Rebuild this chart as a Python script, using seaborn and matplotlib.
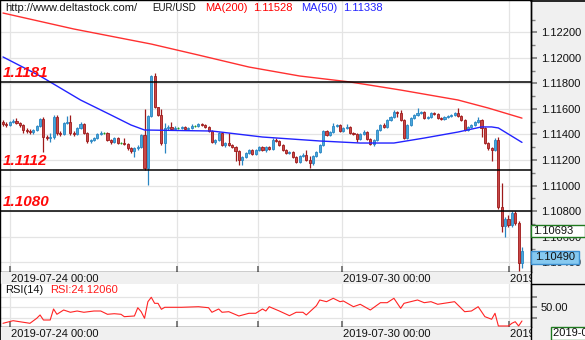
import matplotlib
matplotlib.use("Agg")
import matplotlib.pyplot as plt
import seaborn as sns
import pandas as pd
from matplotlib.patches import Rectangle
from matplotlib.lines import Line2D
from matplotlib.ticker import FixedLocator, FuncFormatter

# ---------------- data (EUR/USD hourly candles) ----------------
first_open = 1.11498
closes = [1.11482, 1.11474, 1.11498, 1.11506, 1.11490, 1.11474, 1.11435, 1.11427, 1.11419, 1.11435,
          1.11466, 1.11521, 1.11380, 1.11372, 1.11380, 1.11537, 1.11412, 1.11404, 1.11490, 1.11498,
          1.11412, 1.11404, 1.11451, 1.11482, 1.11412, 1.11349, 1.11357, 1.11372, 1.11404, 1.11412,
          1.11412, 1.11357, 1.11341, 1.11372, 1.11333, 1.11333, 1.11326, 1.11294, 1.11271, 1.11294,
          1.11302, 1.11396, 1.11138, 1.11545, 1.11858, 1.11615, 1.11553, 1.11333, 1.11451, 1.11459,
          1.11443, 1.11451, 1.11451, 1.11459, 1.11443, 1.11451, 1.11466, 1.11466, 1.11482, 1.11474,
          1.11459, 1.11427, 1.11341, 1.11357, 1.11412, 1.11318, 1.11333, 1.11318, 1.11302, 1.11271,
          1.11200, 1.11224, 1.11255, 1.11278, 1.11247, 1.11278, 1.11302, 1.11278, 1.11302, 1.11286,
          1.11357, 1.11349, 1.11318, 1.11278, 1.11255, 1.11263, 1.11224, 1.11185, 1.11231, 1.11239,
          1.11200, 1.11177, 1.11231, 1.11263, 1.11318, 1.11427, 1.11396, 1.11419, 1.11466, 1.11474,
          1.11427, 1.11451, 1.11459, 1.11412, 1.11404, 1.11365, 1.11404, 1.11419, 1.11365, 1.11326,
          1.11357, 1.11435, 1.11474, 1.11459, 1.11513, 1.11537, 1.11576, 1.11568, 1.11513, 1.11372,
          1.11474, 1.11529, 1.11553, 1.11568, 1.11576, 1.11529, 1.11537, 1.11568, 1.11560, 1.11529,
          1.11521, 1.11537, 1.11545, 1.11553, 1.11568, 1.11545, 1.11513, 1.11435, 1.11459, 1.11474,
          1.11498, 1.11513, 1.11451, 1.11333, 1.11294, 1.11278, 1.11357, 1.10832, 1.10683, 1.10738,
          1.10691, 1.10785, 1.10707, 1.10394, 1.10490]
highs = [1.11513, 1.11498, 1.11506, 1.11521, 1.11529, 1.11498, 1.11482, 1.11451, 1.11443, 1.11443,
         1.11474, 1.11529, 1.11537, 1.11396, 1.11412, 1.11553, 1.11553, 1.11427, 1.11498, 1.11545,
         1.11553, 1.11427, 1.11459, 1.11498, 1.11490, 1.11419, 1.11365, 1.11380, 1.11412, 1.11427,
         1.11419, 1.11419, 1.11365, 1.11380, 1.11380, 1.11341, 1.11372, 1.11333, 1.11302, 1.11302,
         1.11318, 1.11404, 1.11600, 1.11553, 1.11866, 1.11881, 1.11615, 1.11600, 1.11490, 1.11474,
         1.11498, 1.11466, 1.11459, 1.11466, 1.11466, 1.11459, 1.11482, 1.11474, 1.11490, 1.11490,
         1.11482, 1.11466, 1.11435, 1.11365, 1.11419, 1.11419, 1.11341, 1.11412, 1.11326, 1.11310,
         1.11278, 1.11231, 1.11263, 1.11286, 1.11286, 1.11286, 1.11310, 1.11310, 1.11310, 1.11310,
         1.11372, 1.11372, 1.11357, 1.11326, 1.11286, 1.11271, 1.11271, 1.11231, 1.11239, 1.11255,
         1.11278, 1.11231, 1.11239, 1.11271, 1.11326, 1.11435, 1.11435, 1.11427, 1.11490, 1.11482,
         1.11482, 1.11459, 1.11482, 1.11466, 1.11419, 1.11412, 1.11412, 1.11435, 1.11427, 1.11372,
         1.11365, 1.11443, 1.11482, 1.11490, 1.11521, 1.11545, 1.11592, 1.11584, 1.11592, 1.11521,
         1.11482, 1.11537, 1.11560, 1.11607, 1.11584, 1.11584, 1.11545, 1.11576, 1.11576, 1.11568,
         1.11537, 1.11545, 1.11553, 1.11560, 1.11576, 1.11607, 1.11553, 1.11521, 1.11466, 1.11482,
         1.11506, 1.11537, 1.11521, 1.11459, 1.11341, 1.11302, 1.11372, 1.11380, 1.11020, 1.10754,
         1.10770, 1.10800, 1.10800, 1.10723, 1.10520]
lows = [1.11466, 1.11459, 1.11466, 1.11490, 1.11482, 1.11459, 1.11412, 1.11412, 1.11404, 1.11404,
        1.11427, 1.11459, 1.11263, 1.11357, 1.11341, 1.11365, 1.11396, 1.11388, 1.11396, 1.11482,
        1.11396, 1.11388, 1.11396, 1.11443, 1.11404, 1.11333, 1.11333, 1.11349, 1.11365, 1.11396,
        1.11404, 1.11349, 1.11326, 1.11333, 1.11326, 1.11326, 1.11318, 1.11278, 1.11255, 1.11224,
        1.11278, 1.11294, 1.11122, 1.11004, 1.11537, 1.11607, 1.11545, 1.11318, 1.11255, 1.11435,
        1.11435, 1.11435, 1.11443, 1.11443, 1.11435, 1.11435, 1.11443, 1.11459, 1.11459, 1.11466,
        1.11451, 1.11419, 1.11333, 1.11326, 1.11349, 1.11310, 1.11302, 1.11310, 1.11294, 1.11192,
        1.11161, 1.11161, 1.11216, 1.11247, 1.11239, 1.11239, 1.11271, 1.11271, 1.11263, 1.11278,
        1.11278, 1.11341, 1.11310, 1.11271, 1.11247, 1.11247, 1.11216, 1.11177, 1.11177, 1.11224,
        1.11192, 1.11138, 1.11161, 1.11224, 1.11255, 1.11310, 1.11388, 1.11388, 1.11412, 1.11459,
        1.11419, 1.11419, 1.11443, 1.11404, 1.11396, 1.11341, 1.11357, 1.11396, 1.11357, 1.11318,
        1.11310, 1.11349, 1.11427, 1.11451, 1.11451, 1.11506, 1.11529, 1.11537, 1.11506, 1.11365,
        1.11365, 1.11466, 1.11521, 1.11545, 1.11560, 1.11521, 1.11521, 1.11529, 1.11553, 1.11521,
        1.11513, 1.11513, 1.11529, 1.11537, 1.11545, 1.11537, 1.11506, 1.11427, 1.11427, 1.11451,
        1.11466, 1.11490, 1.11380, 1.11326, 1.11278, 1.11192, 1.11271, 1.10816, 1.10636, 1.10597,
        1.10675, 1.10675, 1.10691, 1.10330, 1.10355]

ma200_idx = [0, 21, 44, 58, 73, 88, 103, 118, 135, 144, 154]
ma200_val = [1.12351, 1.12226, 1.12108, 1.12022, 1.11928, 1.11858, 1.11811, 1.11748, 1.11670, 1.11607, 1.11528]
ma50_idx = [0, 11, 23, 32, 38, 42, 62, 77, 94, 106, 116, 125, 135, 142, 145, 147, 154]
ma50_val = [1.12007, 1.11858, 1.11670, 1.11553, 1.11474, 1.11435, 1.11427, 1.11380, 1.11349, 1.11333,
            1.11333, 1.11372, 1.11419, 1.11459, 1.11459, 1.11451, 1.11338]

rsi_idx = [0, 3, 8, 10, 11, 12, 14, 15, 16, 18, 20, 22, 24, 27, 29, 31, 33, 35, 36, 39,
           40, 41, 42, 43, 44, 45, 46, 47, 48, 53, 58, 61, 62, 64, 65, 67, 70, 73, 75, 77,
           78, 79, 82, 85, 87, 89, 90, 93, 94, 96, 98, 100, 101, 104, 106, 109, 112, 114, 116, 118,
           119, 123, 125, 127, 129, 134, 137, 139, 141, 143, 145, 146, 147, 150, 151, 152, 153, 154]
rsi_val = [19.8, 24.7, 19.8, 29.2, 35.5, 26.0, 26.0, 46.8, 36.8, 44.9, 40.6, 43.0, 40.6, 43.0, 43.0, 36.8, 37.9, 36.8, 32.3, 33.6,
           49.2, 41.7, 29.2, 60.6, 68.9, 57.5, 57.5, 46.2, 50.0, 50.0, 51.1, 49.2, 40.6, 46.8, 40.6, 41.7, 33.6, 38.7, 38.7, 46.8,
           43.0, 51.1, 43.0, 34.2, 40.6, 40.6, 35.5, 53.0, 63.8, 60.6, 67.0, 60.6, 61.9, 51.1, 55.7, 44.9, 58.7, 58.7, 67.0, 48.1,
           57.5, 63.8, 58.7, 60.6, 55.7, 60.6, 41.7, 43.0, 51.1, 32.3, 27.4, 38.7, 14.7, 14.7, 19.8, 22.8, 14.7, 24.12]

level_prices = [1.1181, 1.1112, 1.1080]
level_labels = ["1.1181", "1.1112", "1.1080"]
day_idx = [2.1, 51.6, 75.7, 100.6, 150.1]
day_labels = ["2019-07-24 00:00", "", "", "2019-07-30 00:00", "2019-08-01 00:00"]
price_major = [1.104, 1.106, 1.108, 1.110, 1.112, 1.114, 1.116, 1.118, 1.120, 1.122]
price_minor = [1.105, 1.107, 1.109, 1.111, 1.113, 1.115, 1.117, 1.119, 1.121, 1.123]
tag_close = 1.10693
last_price = 1.10490

# ---------------- style ----------------
sns.set_theme(style="white")
plt.rcParams["font.family"] = ["Liberation Sans", "DejaVu Sans"]

W, H = 585, 340
fig = plt.figure(figsize=(W / 100, H / 100), dpi=100, facecolor="#f0f0f0")


def fr(x0, y0, x1, y1):
    return [x0 / W, 1 - y1 / H, (x1 - x0) / W, (y1 - y0) / H]


def P(x, y):
    return (x / W, 1 - y / H)


XLIM = (-0.89, 156.68)
GRID = "#e4e4e4"
TXT = 8

ax = fig.add_axes(fr(0, 0, 531, 272))
ax_s1 = fig.add_axes(fr(0, 272, 531, 284))
ax_r = fig.add_axes(fr(0, 284, 531, 327))
ax_s2 = fig.add_axes(fr(0, 327, 531, 340))

# ---------------- candles ----------------
n = len(closes)
idx = list(range(n))
opens = [first_open] + closes[:-1]
df = pd.DataFrame({"i": idx, "o": opens, "h": highs, "l": lows, "c": closes})

bull_fill, bull_edge = "#49a6dc", "#2a86c2"
bear_fill, bear_edge = "#c84848", "#9e1a1a"
doji_col = "#1e9a1e"

ax.set_facecolor("white")
for _, r in df.iterrows():
    if abs(r.c - r.o) < 1e-7:
        fc, ec = doji_col, doji_col
    elif r.c > r.o:
        fc, ec = bull_fill, bull_edge
    else:
        fc, ec = bear_fill, bear_edge
    ax.vlines(r.i, r.l, r.h, color=ec, lw=0.9, zorder=3)
    ax.bar(r.i, r.c - r.o, bottom=r.o, width=0.62, color=fc, edgecolor=ec, linewidth=0.6, zorder=4)

ma200 = pd.DataFrame({"i": ma200_idx, "v": ma200_val})
ma50 = pd.DataFrame({"i": ma50_idx, "v": ma50_val})
sns.lineplot(data=ma200, x="i", y="v", ax=ax, color="#ff3030", lw=1.0, zorder=5)
sns.lineplot(data=ma50, x="i", y="v", ax=ax, color="#2323ff", lw=1.0, zorder=5)

for p, lab in zip(level_prices, level_labels):
    ax.axhline(p, color="black", lw=1.1, zorder=6)
    ax.annotate(lab, xy=(0, p), xycoords=("axes fraction", "data"), xytext=(3, 9),
                textcoords="offset pixels", ha="left", va="center", color="#ff0a0a",
                fontsize=11, fontweight="bold", fontstyle="italic", zorder=7)

ax.set_xlim(*XLIM)
ax.set_ylim(1.10323, 1.12453)
ax.set_xlabel("")
ax.set_ylabel("")
ax.yaxis.tick_right()
ax.yaxis.set_major_locator(FixedLocator(price_major))
ax.yaxis.set_minor_locator(FixedLocator(price_minor))
ax.yaxis.set_major_formatter(FuncFormatter(lambda v, p: f"{v:.5f}"))
ax.tick_params(axis="y", which="major", direction="out", length=4, color="#808080",
               labelsize=TXT, labelcolor="#111111", pad=3, right=True, left=False)
ax.tick_params(axis="y", which="minor", direction="out", length=3, color="#808080", right=True, left=False)
ax.set_xticks(day_idx)
ax.set_xticklabels([])
ax.tick_params(axis="x", direction="in", length=4, color="#707070", bottom=True)
ax.grid(True, axis="both", which="major", color=GRID, lw=0.9, zorder=0)
ax.set_axisbelow(True)
for s in ax.spines.values():
    s.set_color("black")
    s.set_linewidth(1.0)
    s.set_visible(True)

# ---------------- date strips ----------------
for axs in (ax_s1, ax_s2):
    axs.set_facecolor("#f0f0f0")
    axs.set_xlim(*XLIM)
    axs.set_ylim(0, 1)
    axs.set_xticks([])
    axs.set_yticks([])
    for k, s in axs.spines.items():
        s.set_visible(k == "left")
        s.set_color("black")
    for d, lab in zip(day_idx, day_labels):
        if lab:
            axs.text(d + 0.3, 0.45, lab, ha="left", va="center", fontsize=TXT,
                     color="#111111", clip_on=True)

# ---------------- RSI panel ----------------
ax_r.set_facecolor("white")
rsi = pd.DataFrame({"i": rsi_idx, "v": rsi_val})
sns.lineplot(data=rsi, x="i", y="v", ax=ax_r, color="#ff2424", lw=0.8, zorder=4)
ax_r.set_xlim(*XLIM)
ax_r.set_ylim(12.8, 94.0)
ax_r.set_xlabel("")
ax_r.set_ylabel("")
ax_r.set_xticks(day_idx)
ax_r.set_xticklabels([])
ax_r.tick_params(axis="x", direction="in", length=4, color="#707070", bottom=True)
ax_r.yaxis.tick_right()
ax_r.set_yticks([30, 50, 70])
ax_r.set_yticklabels(["", "50.00", ""])
ax_r.tick_params(axis="y", direction="out", length=4, color="#808080", labelsize=TXT,
                 labelcolor="#111111", pad=3, right=True, left=False)
ax_r.grid(True, axis="both", color=GRID, lw=0.9, zorder=0)
ax_r.set_axisbelow(True)
for k, s in ax_r.spines.items():
    s.set_color("black")
    s.set_linewidth(1.0)
    s.set_visible(k != "top")
ax_r.text(5 / 531, 0.85, "RSI(14)", transform=ax_r.transAxes, fontsize=TXT, color="#111111",
          ha="left", va="center")
ax_r.text(50 / 531, 0.85, f"RSI:{24.12060:.5f}", transform=ax_r.transAxes, fontsize=TXT,
          color="#ff1a1a", ha="left", va="center")

# ---------------- header ----------------
hy = 8
fig.text(*P(5, hy), "http://www.deltastock.com/", fontsize=TXT, color="#1a1a1a", va="center")
fig.text(*P(152, hy), "EUR/USD", fontsize=7, color="#111111", va="center")
fig.text(*P(205, hy), "MA(200)", fontsize=TXT, color="#ff0000", va="center")
fig.text(*P(253, hy), f"{ma200_val[-1]:.5f}", fontsize=TXT, color="#ff0000", va="center")
fig.text(*P(301, hy), "MA(50)", fontsize=TXT, color="#2323ff", va="center")
fig.text(*P(343, hy), f"{ma50_val[-1]:.5f}", fontsize=TXT, color="#2323ff", va="center")

# ---------------- right panel borders & tags ----------------
fig.add_artist(Line2D([531 / W, 1], [1 - 0.5 / H, 1 - 0.5 / H], color="black", lw=1.2,
                      transform=fig.transFigure))
fig.add_artist(Line2D([531 / W, 1], [1 - 284 / H, 1 - 284 / H], color="black", lw=1.0,
                      transform=fig.transFigure))
fig.add_artist(Line2D([531 / W, 531 / W], [0, 1], color="black", lw=1.0,
                      transform=fig.transFigure))

fig.canvas.draw()


def price_to_py(p):
    disp = ax.transData.transform((0, p))[1]
    return H - disp


y1 = price_to_py(tag_close)
fig.add_artist(Rectangle(P(531, y1 + 12.5), 54 / W, 12 / H, transform=fig.transFigure,
                         facecolor="white", edgecolor="#1f7a1f", lw=1.0, zorder=10))
fig.text(*P(533, y1 + 6.7), f"{tag_close:.5f}", fontsize=TXT, color="#111111", va="center", zorder=11)

y2 = price_to_py(last_price)
fig.add_artist(Rectangle(P(531, y2 + 13.3), 48 / W, 13.3 / H, transform=fig.transFigure,
                         facecolor="#86c9f0", edgecolor="#3b8fd0", lw=1.0, zorder=10))
fig.text(*P(535, y2 + 6.8), f"{last_price:.5f}", fontsize=TXT, color="#111111", va="center", zorder=11)

fig.add_artist(Rectangle(P(551, 340), 40 / W, 13.3 / H, transform=fig.transFigure,
                         facecolor="white", edgecolor="#1f7a1f", lw=1.0, zorder=10))
fig.text(*P(553, 333.5), "2019-08-01 04:00", fontsize=TXT, color="#111111", va="center", zorder=11)

fig.savefig("out.png", dpi=100, facecolor=fig.get_facecolor())
